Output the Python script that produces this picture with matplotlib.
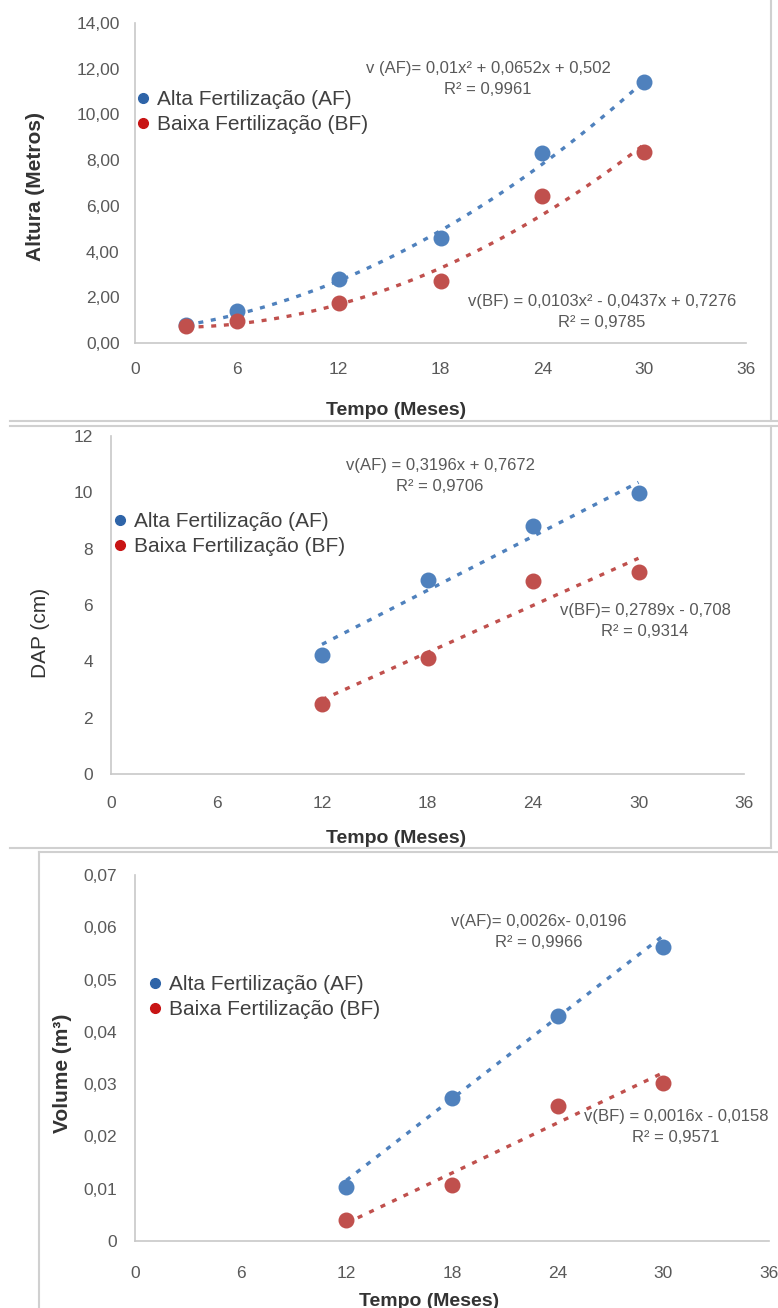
import numpy as np
import matplotlib
matplotlib.use('Agg')
import matplotlib.pyplot as plt
from matplotlib.lines import Line2D

plt.rcParams['font.family'] = ['Liberation Sans', 'DejaVu Sans']

W, H = 778, 1308

### Dados ###
labels = ['Alta Fertilização (AF)', 'Baixa Fertilização (BF)']
x_ticks = [0, 6, 12, 18, 24, 30, 36]

# Altura
alt_x = [3, 6, 12, 18, 24, 30]
alt_af = [0.80, 1.38, 2.80, 4.60, 8.33, 11.43]
alt_bf = [0.74, 0.96, 1.75, 2.73, 6.43, 8.35]
alt_coef_af = [0.01, 0.0652, 0.502]
alt_coef_bf = [0.0103, -0.0437, 0.7276]
alt_yticks = [0, 2, 4, 6, 8, 10, 12, 14]
alt_ylabels = ['0,00', '2,00', '4,00', '6,00', '8,00', '10,00', '12,00', '14,00']
alt_eq_af = 'v (AF)= 0,01x² + 0,0652x + 0,502\nR² = 0,9961'
alt_eq_bf = 'v(BF) = 0,0103x² - 0,0437x + 0,7276\nR² = 0,9785'

# DAP
dap_x = [12, 18, 24, 30]
dap_af = [4.22, 6.90, 8.80, 9.98]
dap_bf = [2.48, 4.12, 6.85, 7.17]
dap_coef_af = [0.3196, 0.7672]
dap_coef_bf = [0.2789, -0.708]
dap_yticks = [0, 2, 4, 6, 8, 10, 12]
dap_ylabels = ['0', '2', '4', '6', '8', '10', '12']
dap_eq_af = 'v(AF) = 0,3196x + 0,7672\nR² = 0,9706'
dap_eq_bf = 'v(BF)= 0,2789x - 0,708\nR² = 0,9314'

# Volume
vol_x = [12, 18, 24, 30]
vol_af = [0.0103, 0.0274, 0.0430, 0.0562]
vol_bf = [0.0040, 0.0107, 0.0259, 0.0303]
vol_coef_af = [0.0026, -0.0196]
vol_coef_bf = [0.0016, -0.0158]
vol_yticks = [0, 0.01, 0.02, 0.03, 0.04, 0.05, 0.06, 0.07]
vol_ylabels = ['0', '0,01', '0,02', '0,03', '0,04', '0,05', '0,06', '0,07']
vol_eq_af = 'v(AF)= 0,0026x- 0,0196\nR² = 0,9966'
vol_eq_bf = 'v(BF) = 0,0016x - 0,0158\nR² = 0,9571'

c_af = '#4F81BD'
c_bf = '#C0504D'
c_leg_af = '#2E64A8'
c_leg_bf = '#C81414'
grey_txt = '#595959'

fig = plt.figure(figsize=(W / 100, H / 100), dpi=100)


def px_axes(l, t, r, b):
    return fig.add_axes([l / W, 1 - b / H, (r - l) / W, (b - t) / H])


def to_ax(box, px, py):
    l, t, r, b = box
    return (px - l) / (r - l), (b - py) / (b - t)


def painel(box, xs, af, bf, caf, cbf, yticks, ylabels, ylabel, ybold,
           eq_af, eq_bf, pos_af, pos_bf, leg_pos, ylab_pos, xlab_pos,
           xpad, ypad):
    ax = px_axes(*box)
    xs = np.array(xs)
    xf = np.linspace(xs[0], xs[-1], 100)
    # linhas de tendencia (coeficientes das equacoes do grafico)
    ax.plot(xf, np.polyval(caf, xf), color=c_af, lw=2.4, ls=(0, (1.5, 2.3)))
    ax.plot(xf, np.polyval(cbf, xf), color=c_bf, lw=2.4, ls=(0, (1.5, 2.3)))
    ax.scatter(xs, af, s=110, color=c_af, zorder=3)
    ax.scatter(xs, bf, s=110, color=c_bf, zorder=3)
    ax.set_xlim(0, 36)
    ax.set_ylim(yticks[0], yticks[-1])
    ax.set_xticks(x_ticks)
    ax.set_yticks(yticks)
    ax.set_yticklabels(ylabels)
    for s in ['top', 'right']:
        ax.spines[s].set_visible(False)
    for s in ['left', 'bottom']:
        ax.spines[s].set_color('#c8c8c8')
        ax.spines[s].set_linewidth(1.2)
    ax.tick_params(axis='both', length=0, labelsize=12.5, labelcolor=grey_txt)
    ax.tick_params(axis='x', pad=xpad)
    ax.tick_params(axis='y', pad=ypad)
    ax.set_ylabel(ylabel, fontsize=15, fontweight='bold' if ybold else 'normal',
                  color='#333333')
    ax.yaxis.set_label_coords(*to_ax(box, *ylab_pos))
    ax.set_xlabel('Tempo (Meses)', fontsize=14, fontweight='bold', color='#333333')
    ax.xaxis.set_label_coords(*to_ax(box, *xlab_pos))
    for txt, pos in [(eq_af, pos_af), (eq_bf, pos_bf)]:
        ax.text(*to_ax(box, *pos), txt, transform=ax.transAxes, ha='center',
                va='center', multialignment='center', fontsize=12,
                color=grey_txt, linespacing=1.45)
    handles = [Line2D([], [], ls='', marker='o', ms=7, color=c_leg_af),
               Line2D([], [], ls='', marker='o', ms=7, color=c_leg_bf)]
    ax.legend(handles, labels, loc='center left',
              bbox_to_anchor=to_ax(box, *leg_pos), frameon=False,
              fontsize=15, handlelength=0.6, handletextpad=0.35,
              borderpad=0, borderaxespad=0, labelspacing=0.28,
              labelcolor='#404040')
    return ax


painel((135, 23, 746, 343), alt_x, alt_af, alt_bf, alt_coef_af, alt_coef_bf,
       alt_yticks, alt_ylabels, 'Altura (Metros)', True,
       alt_eq_af, alt_eq_bf, (488, 79), (602, 312),
       (137, 112), (45, 186), (396, 402), 14, 11)

painel((111, 436, 744, 774), dap_x, dap_af, dap_bf, dap_coef_af, dap_coef_bf,
       dap_yticks, dap_ylabels, 'DAP (cm)', False,
       dap_eq_af, dap_eq_bf, (440, 476), (645, 621),
       (114, 534), (50, 633), (396, 830), 16, 13)

painel((135, 875, 769, 1241), vol_x, vol_af, vol_bf, vol_coef_af, vol_coef_bf,
       vol_yticks, vol_ylabels, 'Volume (m³)', True,
       vol_eq_af, vol_eq_bf, (539, 932), (676, 1127),
       (149, 997), (72, 1073), (429, 1293), 18, 13)

# molduras entre os paineis
sep = '#d0d0d0'
def linha(x0, y0, x1, y1):
    fig.add_artist(Line2D([x0 / W, x1 / W], [1 - y0 / H, 1 - y1 / H],
                          color=sep, lw=1.5))

linha(10, 421, 778, 421)
linha(10, 426, 778, 426)
linha(771, 0, 771, 421)
linha(771, 426, 771, 848)
linha(10, 848, 771, 848)
linha(39, 852, 778, 852)
linha(39, 852, 39, 1308)

fig.savefig('out.png', dpi=100)
